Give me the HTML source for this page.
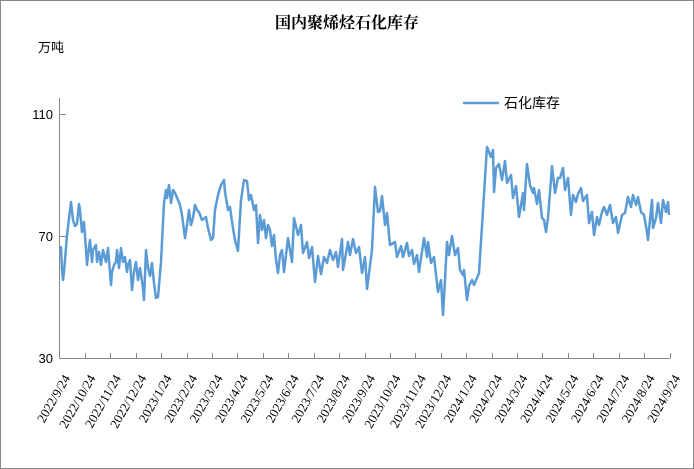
<!DOCTYPE html>
<html><head><meta charset="utf-8"><style>
html,body{margin:0;padding:0;background:#fff}
svg{display:block}
</style></head><body>
<svg width="694" height="469" viewBox="0 0 694 469" xmlns="http://www.w3.org/2000/svg">
<rect x="0.5" y="0.5" width="693" height="468" fill="#fff" stroke="#888"/>
<text x="347" y="28" text-anchor="middle" font-family="'Liberation Serif','Noto Serif CJK SC',serif" font-weight="bold" font-size="16">国内聚烯烃石化库存</text>
<text x="38" y="52" font-family="'Liberation Sans','Noto Sans CJK SC',sans-serif" font-size="13">万吨</text>
<g font-family="'Liberation Sans',sans-serif" font-size="13" text-anchor="end">
<text x="53" y="119">110</text>
<text x="53" y="241">70</text>
<text x="53" y="363">30</text>
</g>
<g stroke="#888" stroke-width="1" fill="none">
<line x1="59.5" y1="98" x2="59.5" y2="358.5"/>
<line x1="59.5" y1="358.5" x2="670" y2="358.5"/>
<line x1="59.5" y1="114.5" x2="66" y2="114.5"/>
<line x1="59.5" y1="236.5" x2="66" y2="236.5"/>
</g>
<g id="tk" stroke="#888"></g>
<g id="lbl" font-family="'Liberation Serif',serif" font-size="13" text-anchor="end"></g>
<polyline fill="none" stroke="#5b9bd5" stroke-width="2.5" stroke-linejoin="round" points="60,250 61,247 62,270 63,280 64,272 67,235 71,202 73,220 75,226 77,224 79,204 80,210 82,232 84,222 85,235 87,265 88,255 90,240 92,262 93,250 96,245 97,262 99,252 101,265 103,250 106,262 108,248 111,285 112,272 114,265 116,262 117,250 119,268 121,248 123,262 125,257 127,272 128,265 130,260 132,290 134,272 136,262 138,280 140,268 143,288 144,300 146,250 148,268 150,276 152,263 154,283 156,298 158,297 161,262 164,203 166,190 167,198 169,185 171,203 173,190 175,193 178,200 180,205 182,215 185,238 187,225 189,210 191,225 193,218 195,205 197,210 199,212 202,220 206,217 208,228 211,240 213,238 215,210 218,195 221,185 224,180 225,192 228,210 230,207 232,222 235,240 238,251 241,200 244,180 247,181 249,200 251,195 254,210 256,205 258,243 260,215 262,230 264,220 266,238 268,225 270,230 272,246 274,235 276,260 278,273 280,255 282,250 284,272 288,238 292,262 294,218 298,235 301,225 303,253 307,242 309,258 312,247 315,282 318,256 321,274 324,257 327,263 330,250 333,260 336,252 338,267 342,239 343,270 348,242 350,255 353,239 356,253 359,247 362,273 365,257 367,289 372,250 375,187 378,212 380,211 382,196 385,225 387,213 390,245 395,242 397,257 401,246 403,257 407,243 409,256 412,250 414,264 417,255 419,272 424,238 427,257 428,242 431,263 434,257 437,283 438,292 441,280 443,315 445,280 447,242 449,255 452,236 455,255 458,248 460,270 463,275 464,270 467,300 469,286 472,280 474,285 477,278 479,273 487,147 491,157 493,150 494,192 496,168 499,164 502,180 505,161 507,183 511,175 513,198 516,186 519,217 523,193 524,210 527,164 530,185 533,193 534,188 537,204 539,190 542,218 544,220 546,232 548,218 552,166 555,193 558,178 560,178 563,168 565,190 568,178 571,215 573,195 576,202 578,194 581,188 583,201 587,195 589,223 592,212 594,235 597,217 599,225 602,212 604,207 607,215 610,205 613,223 616,217 618,233 622,215 625,213 628,197 631,207 633,195 636,205 638,197 641,212 644,215 647,232 648,240 652,200 653,228 656,218 658,203 661,223 663,200 666,212 668,202 669,215"/>
<line x1="463" y1="103" x2="499" y2="103" stroke="#5b9bd5" stroke-width="2.5"/>
<text x="504" y="108" font-family="'Liberation Sans','Noto Sans CJK SC',sans-serif" font-size="14">石化库存</text>
<script>
var labs=["2022/9/24","2022/10/24","2022/11/24","2022/12/24","2023/1/24","2023/2/24","2023/3/24","2023/4/24","2023/5/24","2023/6/24","2023/7/24","2023/8/24","2023/9/24","2023/10/24","2023/11/24","2023/12/24","2024/1/24","2024/2/24","2024/3/24","2024/4/24","2024/5/24","2024/6/24","2024/7/24","2024/8/24","2024/9/24"];
var tk=document.getElementById('tk'),lb=document.getElementById('lbl'),ns="http://www.w3.org/2000/svg";
for(var i=0;i<25;i++){var x=59.5+i*25.42;
if(i>0){var l=document.createElementNS(ns,'line');l.setAttribute('x1',Math.round(x)+0.5);l.setAttribute('x2',Math.round(x)+0.5);l.setAttribute('y1',353);l.setAttribute('y2',358.5);tk.appendChild(l);}
var t=document.createElementNS(ns,'text');var tx=x+11,ty=378;t.setAttribute('x',tx);t.setAttribute('y',ty);t.setAttribute('transform','rotate(-60 '+tx+' '+ty+')');t.textContent=labs[i];lb.appendChild(t);}
</script>
</svg>
</body></html>
